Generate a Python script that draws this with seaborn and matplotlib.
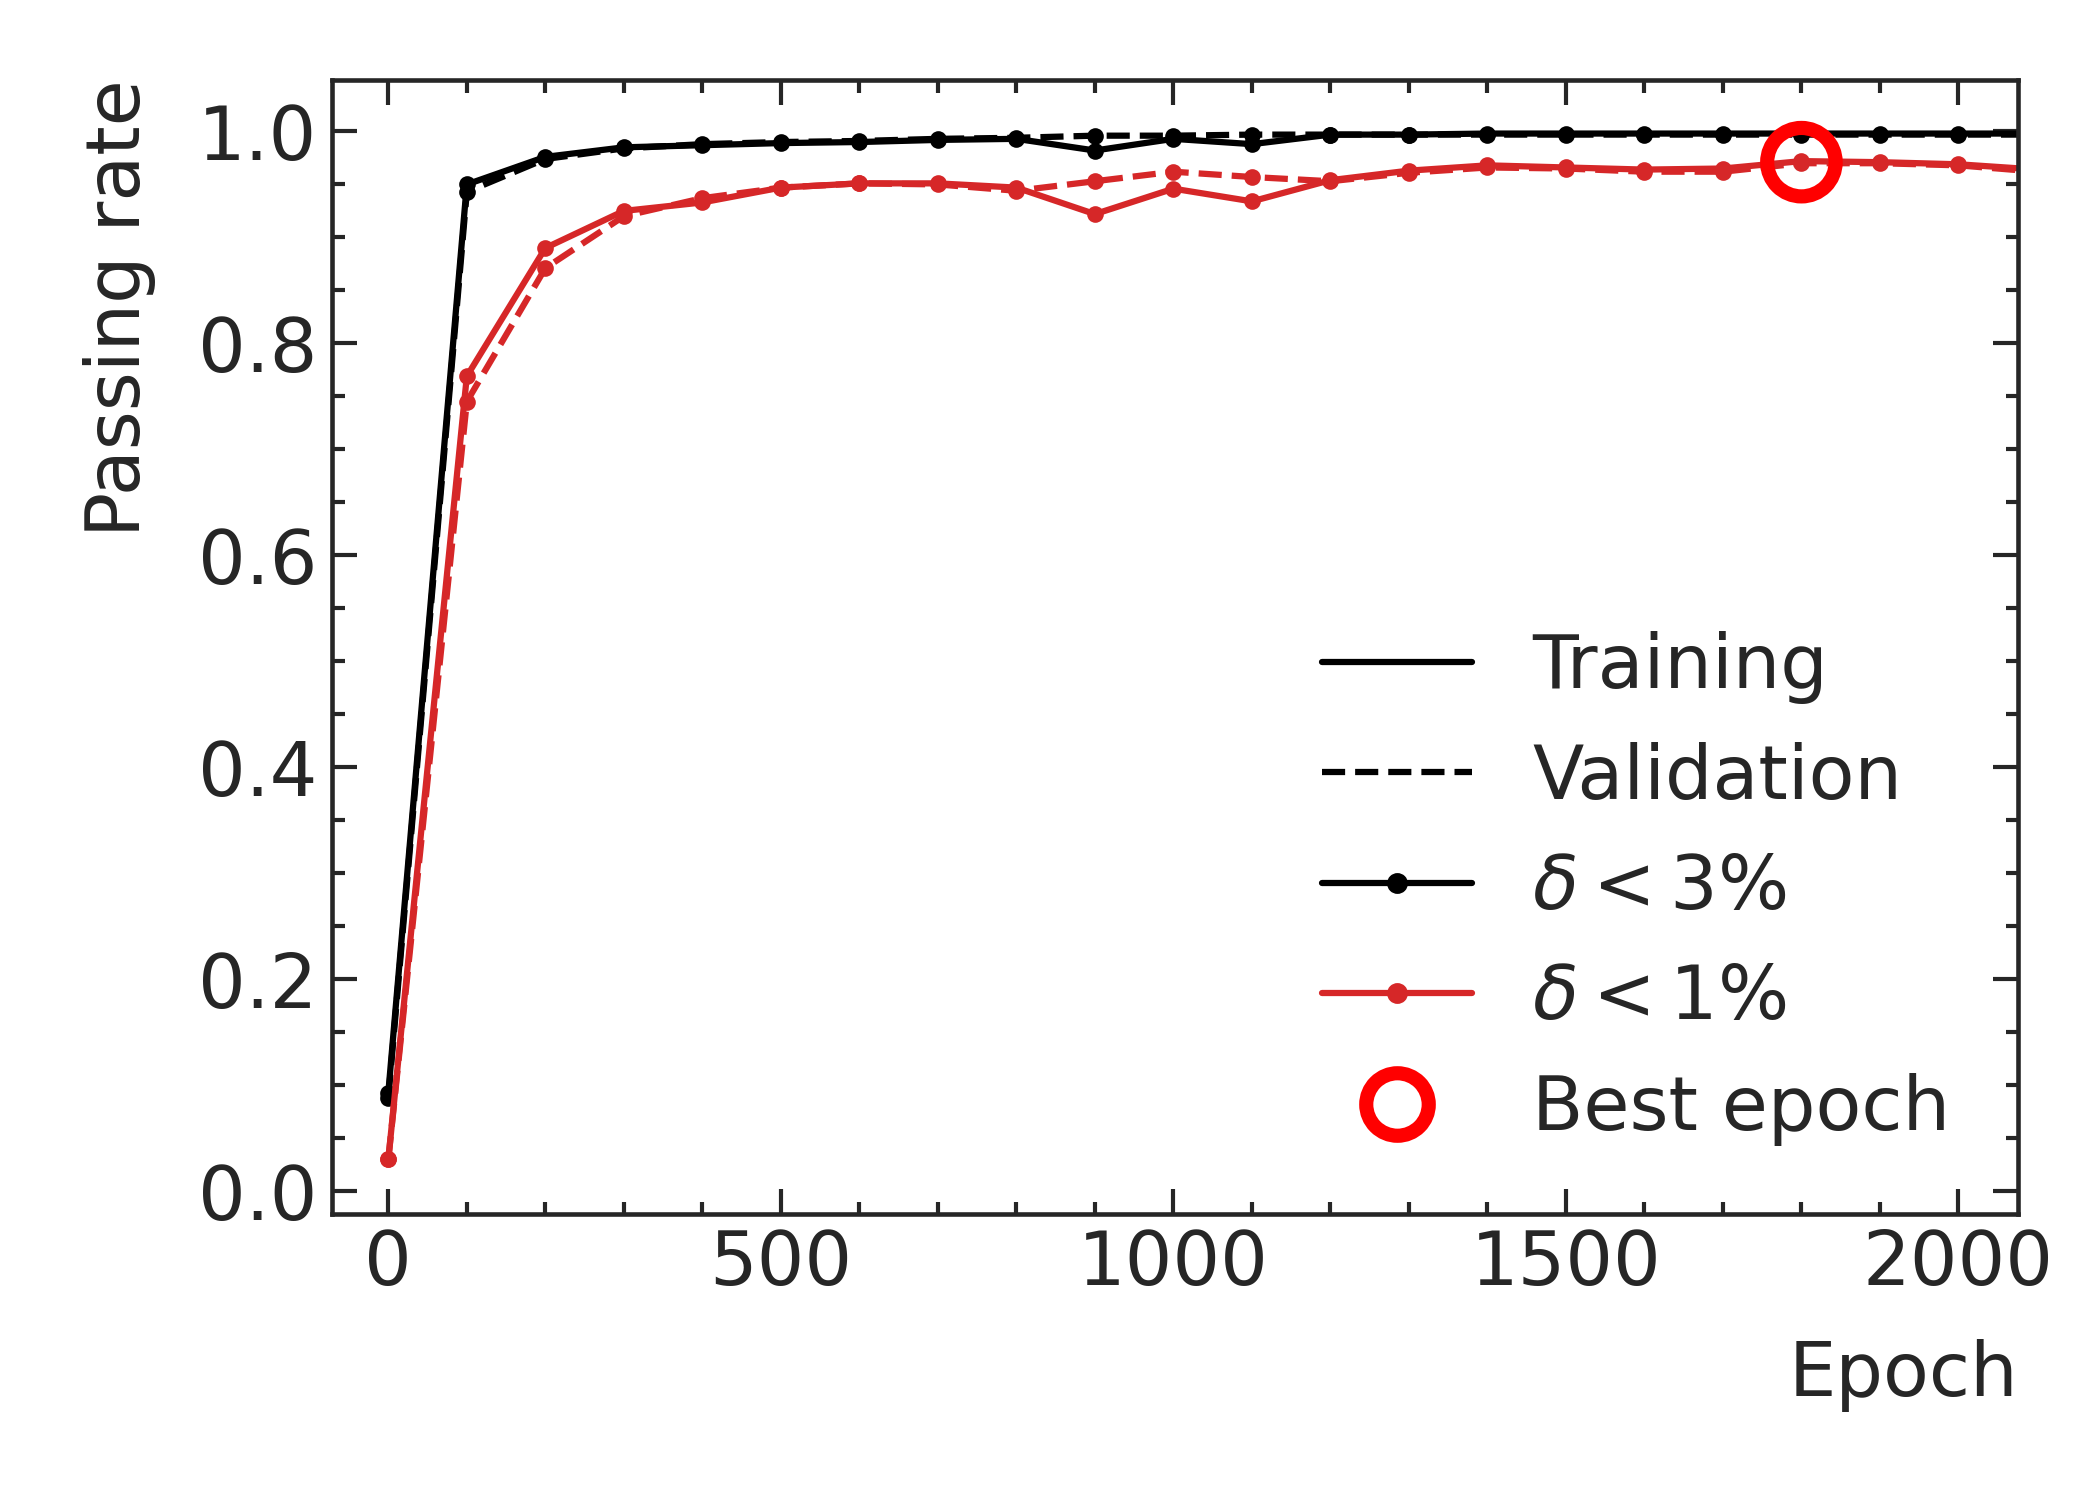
import numpy as np
import pandas as pd
import matplotlib
matplotlib.use('Agg')
import matplotlib.pyplot as plt
from matplotlib.lines import Line2D
from matplotlib.ticker import MultipleLocator
import seaborn as sns

# Values
epochs = [0, 100, 200, 300, 400, 500, 600, 700, 800, 900, 1000,
          1100, 1200, 1300, 1400, 1500, 1600, 1700, 1800, 1900, 2000, 2100]

train_3pct = [0.093, 0.950, 0.976, 0.985, 0.987, 0.989, 0.990, 0.992, 0.993, 0.982, 0.993,
              0.988, 0.997, 0.997, 0.998, 0.998, 0.998, 0.998, 0.998, 0.998, 0.998, 0.998]
val_3pct = [0.088, 0.943, 0.974, 0.984, 0.988, 0.990, 0.991, 0.993, 0.994, 0.996, 0.996,
            0.997, 0.997, 0.997, 0.997, 0.997, 0.997, 0.997, 0.997, 0.997, 0.997, 0.997]
train_1pct = [0.030, 0.769, 0.890, 0.925, 0.933, 0.947, 0.951, 0.951, 0.947, 0.922, 0.946,
              0.934, 0.954, 0.963, 0.968, 0.966, 0.964, 0.965, 0.972, 0.971, 0.969, 0.964]
val_1pct = [0.030, 0.745, 0.871, 0.920, 0.937, 0.947, 0.951, 0.950, 0.944, 0.953, 0.962,
            0.957, 0.953, 0.961, 0.966, 0.965, 0.962, 0.962, 0.970, 0.970, 0.968, 0.962]

best_epoch = [1800]
best_rate = [0.971]

df = pd.DataFrame({'epoch': epochs,
                   'train_3': train_3pct, 'val_3': val_3pct,
                   'train_1': train_1pct, 'val_1': val_1pct})

sns.set_theme(style='ticks')
plt.rcParams['font.family'] = ['DejaVu Sans']
plt.rcParams['mathtext.fontset'] = 'dejavusans'

ink = '#262626'
red = '#d62728'

fig, ax = plt.subplots(figsize=(7, 5), dpi=300)
fig.subplots_adjust(left=0.158, right=0.961, bottom=0.191, top=0.947)

lw = 1.5
ms = 4.0
sns.lineplot(data=df, x='epoch', y='train_3', ax=ax, color='black', lw=lw,
             marker='o', markersize=ms, markeredgewidth=0, legend=False)
sns.lineplot(data=df, x='epoch', y='val_3', ax=ax, color='black', lw=lw, linestyle='--',
             marker='o', markersize=ms, markeredgewidth=0, legend=False)
sns.lineplot(data=df, x='epoch', y='train_1', ax=ax, color=red, lw=lw,
             marker='o', markersize=ms, markeredgewidth=0, legend=False)
sns.lineplot(data=df, x='epoch', y='val_1', ax=ax, color=red, lw=lw, linestyle='--',
             marker='o', markersize=ms, markeredgewidth=0, legend=False)
sns.scatterplot(x=best_epoch, y=best_rate, ax=ax, s=270, facecolor='none',
                edgecolor='red', linewidth=3.4, zorder=5, legend=False)

ax.set_xlim(-72, 2076)
ax.set_ylim(-0.021, 1.049)
ax.xaxis.set_major_locator(MultipleLocator(500))
ax.xaxis.set_minor_locator(MultipleLocator(100))
ax.yaxis.set_major_locator(MultipleLocator(0.2))
ax.yaxis.set_minor_locator(MultipleLocator(0.05))
ax.tick_params(which='both', direction='in', top=True, right=True, colors=ink,
               labelsize=18, width=1.0)
ax.tick_params(which='major', length=6)
ax.tick_params(which='minor', length=3)
for s in ax.spines.values():
    s.set_color(ink)
    s.set_linewidth(1.1)

ax.set_xlabel('Epoch', fontsize=18, color=ink, loc='right', labelpad=9)
ax.set_ylabel('Passing rate', fontsize=18, color=ink, loc='top', labelpad=10)

handles = [
    Line2D([], [], color='black', lw=lw),
    Line2D([], [], color='black', lw=lw, linestyle='--'),
    Line2D([], [], color='black', lw=lw, marker='o', markersize=ms),
    Line2D([], [], color=red, lw=lw, marker='o', markersize=ms),
    Line2D([], [], color='red', lw=0, marker='o', markersize=15,
           markerfacecolor='none', markeredgewidth=3.4),
]
labels = ['Training', 'Validation', r'$\delta < 3\%$', r'$\delta < 1\%$', 'Best epoch']
leg = ax.legend(handles, labels, loc='lower right', frameon=False, fontsize=18,
                labelspacing=0.5, handlelength=2.0)
for t in leg.get_texts():
    t.set_color(ink)

fig.savefig('out.png', dpi=300)
